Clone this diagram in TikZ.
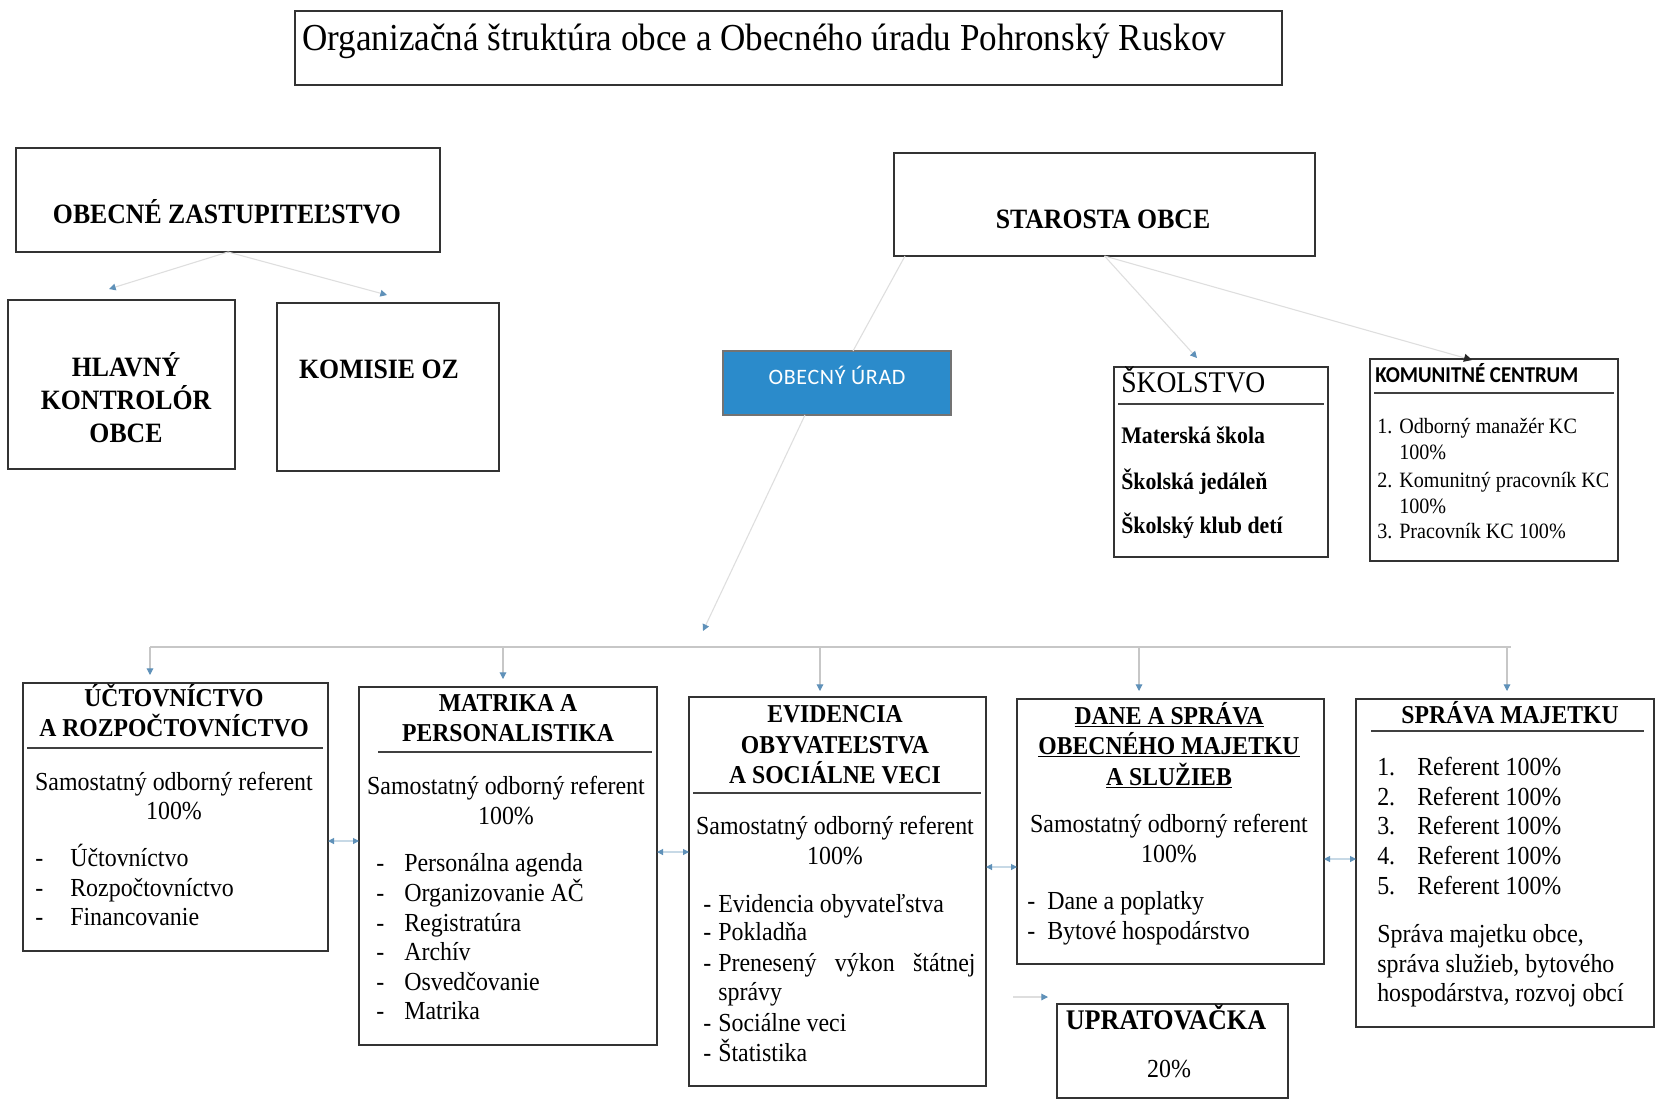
\documentclass[tikz,border=0pt]{standalone}
\usepackage{fontspec}
\setmainfont{Liberation Serif}[FakeStretch=0.92]
\newfontfamily\calib{Carlito}[FakeStretch=0.92]
\newfontfamily\calibw{Carlito}[LetterSpace=3]
\usetikzlibrary{arrows.meta}
\definecolor{urad}{RGB}{43,139,203}
\definecolor{tipc}{RGB}{95,145,185}
\newcommand\fs[2]{\fontsize{#1}{#2}\selectfont}
\newcommand\bx[6][]{\node[box,#1,minimum width={(#5-#3)*0.75pt},minimum height={(#6-#4)*0.75pt}] (#2) at (#3,#4) {};}
\begin{document}
\begin{tikzpicture}[x=0.75pt,y=-0.75pt,
 box/.style={draw=black!80,line width=0.9pt,fill=white,inner sep=0pt,outer sep=0pt,anchor=north west},
 conn/.style={draw=black!13,line width=0.8pt},
 bus/.style={draw=black!22,line width=0.8pt},
 tipa/.style={-{Triangle[length=5pt,width=5pt,color=tipc]}},
 both/.style={{Triangle[length=4.5pt,width=4.5pt,color=tipc]}-{Triangle[length=4.5pt,width=4.5pt,color=tipc]},draw=tipc!35,line width=0.8pt},
 t/.style={inner sep=0pt,anchor=mid,yshift=-3.8pt},
 tl/.style={inner sep=0pt,anchor=mid west,yshift=-3.8pt},
 body/.style={font=\fs{19.5}{22}},
 hd/.style={font=\bfseries\fs{19.3}{22}},
 big/.style={font=\bfseries\fs{21}{24}},
 sep/.style={draw=black!75,line width=0.9pt}
]
\useasboundingbox[fill=white] (0,0) rectangle (1657,1101);

% ---- boxes
\bx{title}{295}{11}{1282}{85}
\bx{oz}{16}{148}{440}{252}
\bx{star}{894}{153}{1315}{256}
\bx{hlk}{8}{300}{235}{469}
\bx{kom}{277}{303}{499}{471}
\bx[fill=urad,draw=black!55]{urad}{723}{351}{951}{415}
\bx{skol}{1114}{367}{1328}{557}
\bx{kc}{1370}{359}{1618}{561}
\bx{uct}{23}{683}{328}{951}
\bx{mat}{359}{687}{657}{1045}
\bx{evi}{689}{697}{986}{1086}
\bx{dane}{1017}{699}{1324}{964}
\bx{sprava}{1356}{699}{1654}{1027}
\bx{uprat}{1057}{1004}{1288}{1098}

% ---- separators inside boxes
\draw[sep] (1118,404) -- (1324,404);
\draw[sep] (1374,393) -- (1614,393);
\draw[sep] (27,748) -- (323,748);
\draw[sep] (378,752) -- (652,752);
\draw[sep] (693,793) -- (981,793);
\draw[sep] (1371,731) -- (1644,731);

% ---- texts top
\node[tl,font=\fs{28.6}{32}] (ttlT) at (302,42) {Organizačná štruktúra obce a Obecného úradu Pohronský Ruskov};
\node[t,big] (ozT) at (227,215) {OBECNÉ ZASTUPITEĽSTVO};
\node[t,big] (starT) at (1103,220) {STAROSTA OBCE};
\node[t,big] (hlk1) at (126,368) {HLAVNÝ};
\node[t,big] (hlk2) at (126,401) {KONTROLÓR};
\node[t,big] (hlk3) at (126,434) {OBCE};
\node[t,big] (komT) at (379,370) {KOMISIE OZ};
\node[t,font=\calibw\fs{16.5}{19},text=white] (uradT) at (837,376) {OBECNÝ ÚRAD};

\node[tl,font=\fs{22.5}{26}] (skolT) at (1121,384) {ŠKOLSTVO};
\node[tl,font=\bfseries\fs{17.8}{20}] (skol1) at (1121,435) {Materská škola};
\node[tl,font=\bfseries\fs{17.8}{20}] (skol2) at (1121,481) {Školská jedáleň};
\node[tl,font=\bfseries\fs{17.8}{20}] (skol3) at (1121,525) {Školský klub detí};

\node[tl,font=\calib\bfseries\fs{17}{19}] (kcT) at (1375,374) {KOMUNITNÉ CENTRUM};
\begin{scope}[every node/.style={tl,font=\fs{16.4}{19}}]
\node (kc1n) at (1377,425) {1.};
\node (kc1) at (1399,425) {Odborný manažér KC};
\node (kc1b) at (1399,451) {100\%};
\node (kc2n) at (1377,479) {2.};
\node (kc2) at (1399,479) {Komunitný pracovník KC};
\node (kc2b) at (1399,505) {100\%};
\node (kc3n) at (1377,530) {3.};
\node (kc3) at (1399,530) {Pracovník KC 100\%};
\end{scope}

% ---- Uctovnictvo
\node[t,hd] (uctT1) at (174,698) {ÚČTOVNÍCTVO};
\node[t,hd] (uctT2) at (174,728) {A ROZPOČTOVNÍCTVO};
\node[t,body] (uctB1) at (174,782) {Samostatný odborný referent};
\node[t,body] (uctB2) at (174,811) {100\%};
\begin{scope}[every node/.style={tl,body}]
\node (ud1) at (35,858) {-}; \node (ul1) at (70,858) {Účtovníctvo};
\node (ud2) at (35,888) {-}; \node (ul2) at (70,888) {Rozpočtovníctvo};
\node (ud3) at (35,917) {-}; \node (ul3) at (70,917) {Financovanie};
\end{scope}

% ---- Matrika
\node[t,hd] (matT1) at (508,703) {MATRIKA A};
\node[t,hd] (matT2) at (508,733) {PERSONALISTIKA};
\node[t,body] (matB1) at (506,786) {Samostatný odborný referent};
\node[t,body] (matB2) at (506,816) {100\%};
\begin{scope}[every node/.style={tl,body}]
\node (md1) at (376,863) {-}; \node (ml1) at (404,863) {Personálna agenda};
\node (md2) at (376,893) {-}; \node (ml2) at (404,893) {Organizovanie AČ};
\node (md3) at (376,923) {-}; \node (ml3) at (404,923) {Registratúra};
\node (md4) at (376,952) {-}; \node (ml4) at (404,952) {Archív};
\node (md5) at (376,982) {-}; \node (ml5) at (404,982) {Osvedčovanie};
\node (md6) at (376,1011) {-}; \node (ml6) at (404,1011) {Matrika};
\end{scope}

% ---- Evidencia
\node[t,hd] (eviT1) at (835,714) {EVIDENCIA};
\node[t,hd] (eviT2) at (835,745) {OBYVATEĽSTVA};
\node[t,hd] (eviT3) at (835,775) {A SOCIÁLNE VECI};
\node[t,body] (eviB1) at (835,826) {Samostatný odborný referent};
\node[t,body] (eviB2) at (835,856) {100\%};
\begin{scope}[every node/.style={tl,body}]
\node (ed1) at (703,904) {-}; \node (el1) at (718,904) {Evidencia obyvateľstva};
\node (ed2) at (703,932) {-}; \node (el2) at (718,932) {Pokladňa};
\node (ed3) at (703,963) {-}; \node (el3) at (718,963) {\makebox[193pt][s]{Prenesený\hfill výkon\hfill štátnej}};
\node (el3b) at (718,992) {správy};
\node (ed4) at (703,1023) {-}; \node (el4) at (718,1023) {Sociálne veci};
\node (ed5) at (703,1053) {-}; \node (el5) at (718,1053) {Štatistika};
\end{scope}

% ---- Dane
\node[t,hd] (daneT1) at (1169,716) {\underline{DANE A SPRÁVA}};
\node[t,hd] (daneT2) at (1169,746) {\underline{OBECNÉHO MAJETKU}};
\node[t,hd] (daneT3) at (1169,777) {\underline{A SLUŽIEB}};
\node[t,body] (daneB1) at (1169,824) {Samostatný odborný referent};
\node[t,body] (daneB2) at (1169,854) {100\%};
\begin{scope}[every node/.style={tl,body}]
\node (dd1) at (1027,901) {-}; \node (dl1) at (1047,901) {Dane a poplatky};
\node (dd2) at (1027,931) {-}; \node (dl2) at (1047,931) {Bytové hospodárstvo};
\end{scope}

% ---- Sprava majetku
\node[t,hd] (sprT) at (1510,715) {SPRÁVA MAJETKU};
\begin{scope}[every node/.style={tl,body}]
\node (sn1) at (1377,767) {1.}; \node (sl1) at (1417,767) {Referent 100\%};
\node (sn2) at (1377,797) {2.}; \node (sl2) at (1417,797) {Referent 100\%};
\node (sn3) at (1377,826) {3.}; \node (sl3) at (1417,826) {Referent 100\%};
\node (sn4) at (1377,856) {4.}; \node (sl4) at (1417,856) {Referent 100\%};
\node (sn5) at (1377,886) {5.}; \node (sl5) at (1417,886) {Referent 100\%};
\node (sp1) at (1377,934) {Správa majetku obce,};
\node (sp2) at (1377,964) {správa služieb, bytového};
\node (sp3) at (1377,993) {hospodárstva, rozvoj obcí};
\end{scope}

% ---- Upratovacka
\node[t,font=\bfseries\fs{21.3}{24}] (upT) at (1166,1021) {UPRATOVAČKA};
\node[t,body] (upB) at (1169,1069) {20\%};

% ---- connector coordinates
\coordinate (hlkIn) at (109,289);
\coordinate (komIn) at (387,295);
\coordinate (starA) at (905,256);
\coordinate (uradTop) at (853,351);
\coordinate (skolIn) at (1197,358);
\coordinate (kcIn) at (1472,360);
\coordinate (uradB) at (805,415);
\coordinate (busTip) at (703,631);
\coordinate (busL) at (150,647);
\coordinate (busR) at (1511,647);
\coordinate (dU) at (150,675);
\coordinate (dM) at (503,679);
\coordinate (dE) at (820,691);
\coordinate (dD) at (1139,691);
\coordinate (dS) at (1507,691);
\coordinate (uprA) at (1013,997);
\coordinate (uprIn) at (1048,997);

% ---- connectors
\draw[conn,tipa] (oz.south) -- (hlkIn);
\draw[conn,tipa] (oz.south) -- (komIn);
\draw[conn] (starA) -- (uradTop);
\draw[conn,tipa] (star.south) -- (skolIn);
\draw[conn,-{Triangle[length=6pt,width=6pt,color=black!85]}] (star.south) -- (kcIn);
\draw[conn,tipa] (uradB) -- (busTip);
\draw[bus] (busL) -- (busR);
\draw[bus,tipa] (busL -| dU) -- (dU);
\draw[bus,tipa] (busL -| dM) -- (dM);
\draw[bus,tipa] (busL -| dE) -- (dE);
\draw[bus,tipa] (busL -| dD) -- (dD);
\draw[bus,tipa] (busL -| dS) -- (dS);
\draw[both] (uct.east |- 0,841) -- (mat.west |- 0,841);
\draw[both] (mat.east |- 0,852) -- (evi.west |- 0,852);
\draw[both] (evi.east |- 0,867) -- (dane.west |- 0,867);
\draw[both] (dane.east |- 0,859) -- (sprava.west |- 0,859);
\draw[conn,tipa] (uprA) -- (uprIn);
\end{tikzpicture}
\end{document}
